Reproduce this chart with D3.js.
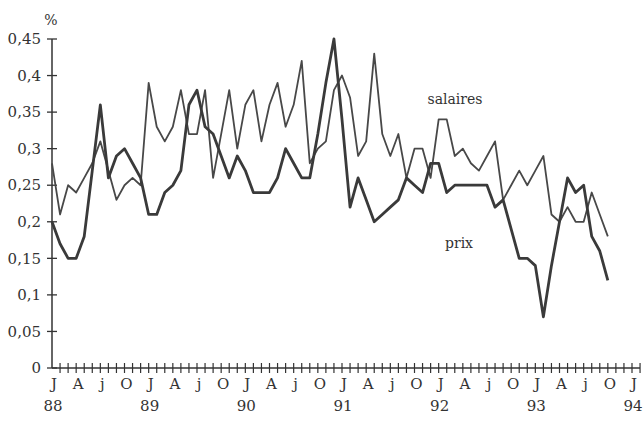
<!DOCTYPE html>
<html><head><meta charset="utf-8">
<script src="https://cdn.jsdelivr.net/npm/d3@7/dist/d3.min.js"></script>
<style>
html,body{margin:0;padding:0;background:#fff;}
svg{display:block;}
</style></head>
<body>
<svg id="chart" width="643" height="427"></svg>
<script>
// monthly series, Jan 1988 .. Oct 1993
const salaires = [0.28,0.21,0.25,0.24,0.26,0.28,0.31,0.27,0.23,0.25,
  0.26,0.25,0.39,0.33,0.31,0.33,0.38,0.32,0.32,0.38,
  0.26,0.32,0.38,0.30,0.36,0.38,0.31,0.36,0.39,0.33,
  0.36,0.42,0.28,0.30,0.31,0.38,0.40,0.37,0.29,0.31,
  0.43,0.32,0.29,0.32,0.26,0.30,0.30,0.26,0.34,0.34,
  0.29,0.30,0.28,0.27,0.29,0.31,0.23,0.25,0.27,0.25,
  0.27,0.29,0.21,0.20,0.22,0.20,0.20,0.24,0.21,0.18];
const prix = [0.20,0.17,0.15,0.15,0.18,0.27,0.36,0.26,0.29,0.30,
  0.28,0.26,0.21,0.21,0.24,0.25,0.27,0.36,0.38,0.33,
  0.32,0.29,0.26,0.29,0.27,0.24,0.24,0.24,0.26,0.30,
  0.28,0.26,0.26,0.32,0.39,0.45,0.34,0.22,0.26,0.23,
  0.20,0.21,0.22,0.23,0.26,0.25,0.24,0.28,0.28,0.24,
  0.25,0.25,0.25,0.25,0.25,0.22,0.23,0.19,0.15,0.15,
  0.14,0.07,0.14,0.20,0.26,0.24,0.25,0.18,0.16,0.12];
const yTicks = [0,0.05,0.1,0.15,0.2,0.25,0.3,0.35,0.4,0.45];
const quarterLabels = ["J","A","j","O"];
const yearLabels = ["88","89","90","91","92","93","94"];
const nMonths = 72;

const FONT = "'DejaVu Serif', 'Liberation Serif', serif";
const svg = d3.select("#chart");
const x = d3.scaleLinear().domain([0, nMonths]).range([52, 632]);
const y = d3.scaleLinear().domain([0, 0.45]).range([368, 39]);
const fmt = v => d3.format("~g")(v).replace(".", ",");

svg.append("line").attr("x1", x(0)).attr("x2", x(0)).attr("y1", y(0)).attr("y2", y(0.45))
  .attr("stroke", "#333").attr("stroke-width", 1.5);
svg.append("line").attr("x1", x(0)).attr("x2", 640).attr("y1", y(0)).attr("y2", y(0))
  .attr("stroke", "#333").attr("stroke-width", 1.5);

svg.selectAll(".yt").data(yTicks).enter().append("line")
  .attr("x1", x(0) - 5).attr("x2", x(0) + 5)
  .attr("y1", d => y(d)).attr("y2", d => y(d))
  .attr("stroke", "#333").attr("stroke-width", 1.3);
svg.selectAll(".yl").data(yTicks).enter().append("text")
  .attr("x", 41).attr("y", d => y(d)).attr("dy", "0.35em")
  .attr("text-anchor", "end").attr("font-size", 15).attr("font-family", FONT).attr("fill", "#333")
  .text(d => fmt(d));
svg.append("text").attr("x", 51).attr("y", 25).attr("text-anchor", "middle")
  .attr("font-size", 14).attr("font-family", FONT).attr("fill", "#333").text("%");

const months = d3.range(1, nMonths + 2);
svg.selectAll(".xt").data(months).enter().append("line")
  .attr("x1", d => x(d)).attr("x2", d => x(d))
  .attr("y1", y(0) - 5).attr("y2", y(0) + 5)
  .attr("stroke", "#333").attr("stroke-width", 1.2);

const quarters = d3.range(0, nMonths + 1, 3);
svg.selectAll(".ql").data(quarters).enter().append("text")
  .attr("x", d => x(d) + 2).attr("y", 389).attr("text-anchor", "middle")
  .attr("font-size", 15).attr("font-family", FONT).attr("fill", "#333")
  .text(d => quarterLabels[(d / 3) % 4]);
svg.selectAll(".yr").data(yearLabels).enter().append("text")
  .attr("x", (d, i) => x(i * 12) + 1).attr("y", 411).attr("text-anchor", "middle")
  .attr("font-size", 15).attr("font-family", FONT).attr("fill", "#333").text(d => d);

const line = d3.line().x((d, i) => x(i)).y(d => y(d));
svg.append("path").datum(salaires).attr("d", line).attr("fill", "none")
  .attr("stroke", "#484848").attr("stroke-width", 1.8).attr("stroke-linejoin", "round");
svg.append("path").datum(prix).attr("d", line).attr("fill", "none")
  .attr("stroke", "#3a3a3a").attr("stroke-width", 2.8).attr("stroke-linejoin", "round");

svg.append("text").attr("x", 455).attr("y", 104).attr("text-anchor", "middle")
  .attr("font-size", 14).attr("font-family", FONT).attr("fill", "#333").text("salaires");
svg.append("text").attr("x", 459).attr("y", 248).attr("text-anchor", "middle")
  .attr("font-size", 14).attr("font-family", FONT).attr("fill", "#333").text("prix");
</script>
</body></html>
